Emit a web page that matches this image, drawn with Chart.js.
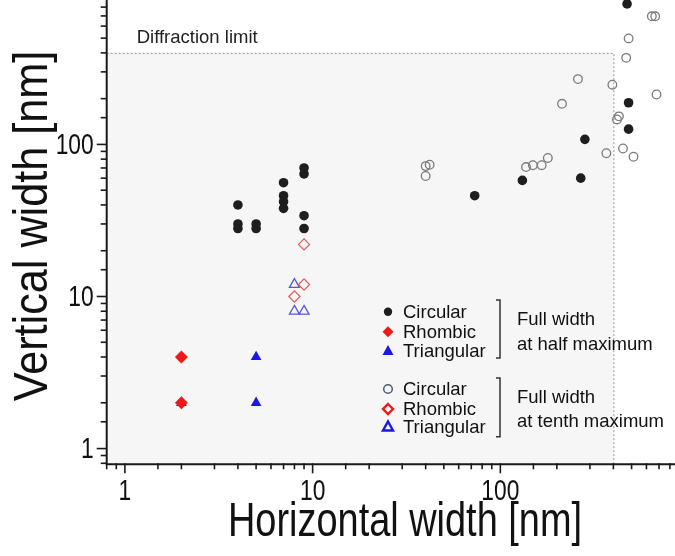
<!DOCTYPE html>
<html><head><meta charset="utf-8">
<script src="https://cdn.jsdelivr.net/npm/chart.js@4"></script>
<style>
html,body{margin:0;padding:0;background:#fff;overflow:hidden;}
#wrap{position:relative;width:675px;height:556px;overflow:hidden;}
canvas{display:block;}
</style></head><body>
<div id="wrap"><canvas id="c" width="677" height="556" style="width:677px;height:556px"></canvas></div>
<script>
// ---- data (nm) ----
const fwhmCircX = [4, 4, 4, 5, 5, 7, 7, 7, 7, 9, 9, 9, 9, 73, 131, 268, 282, 482, 482, 473];
const fwhmCircY = [40, 30, 28, 30, 28, 56, 46, 42, 38, 70, 64, 34, 28, 46, 58, 60, 108, 188, 126, 840];
const fwhmRhomX = [2, 2];
const fwhmRhomY = [4, 2];
const fwhmTriX = [2, 5, 5];
const fwhmTriY = [2, 4, 2];
const fwtmCircX = [40, 42, 40, 137, 149, 166, 179, 367, 213, 259, 395, 418, 428, 450, 512, 468, 482, 641, 668, 679];
const fwtmCircY = [72, 73.5, 62, 71, 73, 73, 81.5, 87.5, 185, 269, 247, 146, 153, 94, 83, 371, 498, 696, 696, 213];
const fwtmRhomX = [9, 9, 8];
const fwtmRhomY = [22, 12, 10];
const fwtmTriX = [8, 8, 9];
const fwtmTriY = [12, 8, 8];
const xTickLabels = [1, 10, 100];
const yTickLabels = [1, 10, 100];
const diffractionLimit = 400;
const legendNames = ['Circular', 'Rhombic', 'Triangular'];
const groupLabels = [['Full width', 'at half maximum'], ['Full width', 'at tenth maximum']];
const xTitle = 'Horizontal width [nm]';
const yTitle = 'Vertical width [nm]';
const limitLabel = 'Diffraction limit';

const pts = (xs, ys) => xs.map((x, i) => ({x: x, y: ys[i]}));

const C_BLACK = '#1e1e1e', C_RED = '#f01818', C_BLUE = '#1818e8';
const C_OCIRC = '#7a7a7a', C_ORED = '#e25a5a', C_OBLUE = '#5656d8';

const datasets = [
  {label: 'FWHM Circular', data: pts(fwhmCircX, fwhmCircY), pointStyle: 'circle', pointRadius: 4.8, backgroundColor: C_BLACK, borderColor: C_BLACK, borderWidth: 0},
  {label: 'FWHM Rhombic', data: pts(fwhmRhomX, fwhmRhomY), pointStyle: 'rectRot', pointRadius: 6.5, backgroundColor: C_RED, borderColor: C_RED, borderWidth: 0},
  {label: 'FWHM Triangular', data: pts(fwhmTriX, fwhmTriY), pointStyle: 'triangle', pointRadius: 6.2, backgroundColor: C_BLUE, borderColor: C_BLUE, borderWidth: 0},
  {label: 'FWTM Circular', data: pts(fwtmCircX, fwtmCircY), pointStyle: 'circle', pointRadius: 4.3, backgroundColor: 'rgba(0,0,0,0)', borderColor: C_OCIRC, borderWidth: 1.3},
  {label: 'FWTM Rhombic', data: pts(fwtmRhomX, fwtmRhomY), pointStyle: 'rectRot', pointRadius: 5.6, backgroundColor: 'rgba(0,0,0,0)', borderColor: C_ORED, borderWidth: 1.2},
  {label: 'FWTM Triangular', data: pts(fwtmTriX, fwtmTriY), pointStyle: 'triangle', pointRadius: 5.8, backgroundColor: 'rgba(0,0,0,0)', borderColor: C_OBLUE, borderWidth: 1.3}
];
datasets.forEach(d => { d.clip = false; d.pointHoverRadius = d.pointRadius; });

const FONT = "'Liberation Sans', Arial, sans-serif";
function txt(ctx, s, x, y, size, align, base, sx, color, rot) {
  ctx.save();
  ctx.translate(x, y);
  if (rot) ctx.rotate(rot);
  ctx.scale(sx, 1);
  ctx.font = size + 'px ' + FONT;
  ctx.fillStyle = color || '#111';
  ctx.textAlign = align; ctx.textBaseline = base;
  ctx.fillText(s, 0, 0);
  ctx.restore();
}

const bgPlugin = {
  id: 'bg',
  beforeDatasetsDraw(chart) {
    const {ctx, chartArea: a, scales: {x, y}} = chart;
    const lx = x.getPixelForValue(diffractionLimit), ly = y.getPixelForValue(diffractionLimit);
    ctx.save();
    ctx.fillStyle = '#f6f6f6';
    ctx.fillRect(a.left, ly, lx - a.left, a.bottom - ly);
    ctx.strokeStyle = '#8595b5';
    ctx.lineWidth = 1;
    ctx.setLineDash([2, 2]);
    ctx.beginPath();
    ctx.moveTo(a.left, ly + 0.5); ctx.lineTo(lx + 0.5, ly + 0.5); ctx.lineTo(lx + 0.5, a.bottom);
    ctx.stroke();
    ctx.restore();
    txt(ctx, limitLabel, a.left + 30, ly - 15, 18.5, 'left', 'middle', 1, '#222');
  },
  afterDatasetsDraw(chart) {
    const {ctx, chartArea: a, scales: {x, y}} = chart;
    ctx.save();
    ctx.strokeStyle = '#1a1a1a';
    ctx.lineWidth = 2;
    ctx.beginPath();
    ctx.moveTo(a.left, 0); ctx.lineTo(a.left, a.bottom + 1);
    ctx.lineTo(chart.width, a.bottom + 1);
    ctx.stroke();
    ctx.lineWidth = 1.6;
    x.ticks.forEach(t => {
      const px = x.getPixelForValue(t.value);
      const major = Math.abs(Math.log10(t.value) - Math.round(Math.log10(t.value))) < 1e-6;
      ctx.beginPath(); ctx.moveTo(px, a.bottom); ctx.lineTo(px, a.bottom + (major ? 10 : 6)); ctx.stroke();
    });
    y.ticks.forEach(t => {
      const py = y.getPixelForValue(t.value);
      const major = Math.abs(Math.log10(t.value) - Math.round(Math.log10(t.value))) < 1e-6;
      ctx.beginPath(); ctx.moveTo(a.left, py); ctx.lineTo(a.left - (major ? 10 : 6), py); ctx.stroke();
    });
    ctx.restore();
    xTickLabels.forEach(v => txt(ctx, String(v), x.getPixelForValue(v), a.bottom + 28, 30, 'center', 'middle', 0.76, '#111'));
    yTickLabels.forEach(v => txt(ctx, String(v), a.left - 13, y.getPixelForValue(v) + 1, 30, 'right', 'middle', 0.76, '#111'));
    txt(ctx, xTitle, 405, 536, 48, 'center', 'alphabetic', 0.79, '#111');
    txt(ctx, yTitle, 47, 226, 48, 'center', 'alphabetic', 0.9, '#111', -Math.PI / 2);

    // legend
    const lx = 388, tx = 403;
    const rows1 = [311.7, 331.7, 351], rows2 = [389, 409, 427];
    ctx.save();
    ctx.fillStyle = C_BLACK; ctx.beginPath(); ctx.arc(lx, rows1[0], 4.2, 0, Math.PI * 2); ctx.fill();
    ctx.fillStyle = C_RED; ctx.beginPath();
    ctx.moveTo(lx, rows1[1] - 5.5); ctx.lineTo(lx + 5.5, rows1[1]); ctx.lineTo(lx, rows1[1] + 5.5); ctx.lineTo(lx - 5.5, rows1[1]); ctx.closePath(); ctx.fill();
    ctx.fillStyle = C_BLUE; ctx.beginPath();
    ctx.moveTo(lx, rows1[2] - 6); ctx.lineTo(lx + 5.5, rows1[2] + 4); ctx.lineTo(lx - 5.5, rows1[2] + 4); ctx.closePath(); ctx.fill();
    ctx.lineWidth = 1.5; ctx.strokeStyle = '#4a5a78';
    ctx.beginPath(); ctx.arc(lx, rows2[0], 4.3, 0, Math.PI * 2); ctx.stroke();
    ctx.lineWidth = 2.4; ctx.strokeStyle = C_RED; ctx.beginPath();
    ctx.moveTo(lx, rows2[1] - 5); ctx.lineTo(lx + 5, rows2[1]); ctx.lineTo(lx, rows2[1] + 5); ctx.lineTo(lx - 5, rows2[1]); ctx.closePath(); ctx.stroke();
    ctx.strokeStyle = C_BLUE; ctx.beginPath();
    ctx.moveTo(lx, rows2[2] - 5.5); ctx.lineTo(lx + 5, rows2[2] + 3.5); ctx.lineTo(lx - 5, rows2[2] + 3.5); ctx.closePath(); ctx.stroke();
    ctx.lineWidth = 1.5; ctx.strokeStyle = '#333';
    [[300, 358], [378, 436.7]].forEach(([t, b]) => {
      ctx.beginPath(); ctx.moveTo(496, t); ctx.lineTo(500, t); ctx.lineTo(500, b); ctx.lineTo(496, b); ctx.stroke();
    });
    ctx.restore();
    legendNames.forEach((n, i) => { txt(ctx, n, tx, rows1[i] + 1, 18.5, 'left', 'middle', 1, '#111'); txt(ctx, n, tx, rows2[i] + 1, 18.5, 'left', 'middle', 1, '#111'); });
    txt(ctx, groupLabels[0][0], 517, 320, 18.5, 'left', 'middle', 1, '#111');
    txt(ctx, groupLabels[0][1], 517, 345, 18.5, 'left', 'middle', 1, '#111');
    txt(ctx, groupLabels[1][0], 517, 398, 18.5, 'left', 'middle', 1, '#111');
    txt(ctx, groupLabels[1][1], 517, 422, 18.5, 'left', 'middle', 1, '#111');
  }
};

new Chart(document.getElementById('c'), {
  type: 'scatter',
  data: {datasets},
  options: {
    responsive: false, maintainAspectRatio: false, animation: false, devicePixelRatio: 1,
    layout: {padding: {top: 2.4, right: 0, left: 0, bottom: 0}},
    plugins: {legend: {display: false}, tooltip: {enabled: false}},
    events: [],
    scales: {
      x: {type: 'logarithmic', min: 0.8, max: 800, grid: {display: false}, border: {display: false}, ticks: {display: false},
          afterFit: s => { s.height = 92.7; }},
      y: {type: 'logarithmic', min: 0.8, max: 800, grid: {display: false}, border: {display: false}, ticks: {display: false},
          afterFit: s => { s.width = 106.7; }}
    }
  },
  plugins: [bgPlugin]
});
</script>
</body></html>
